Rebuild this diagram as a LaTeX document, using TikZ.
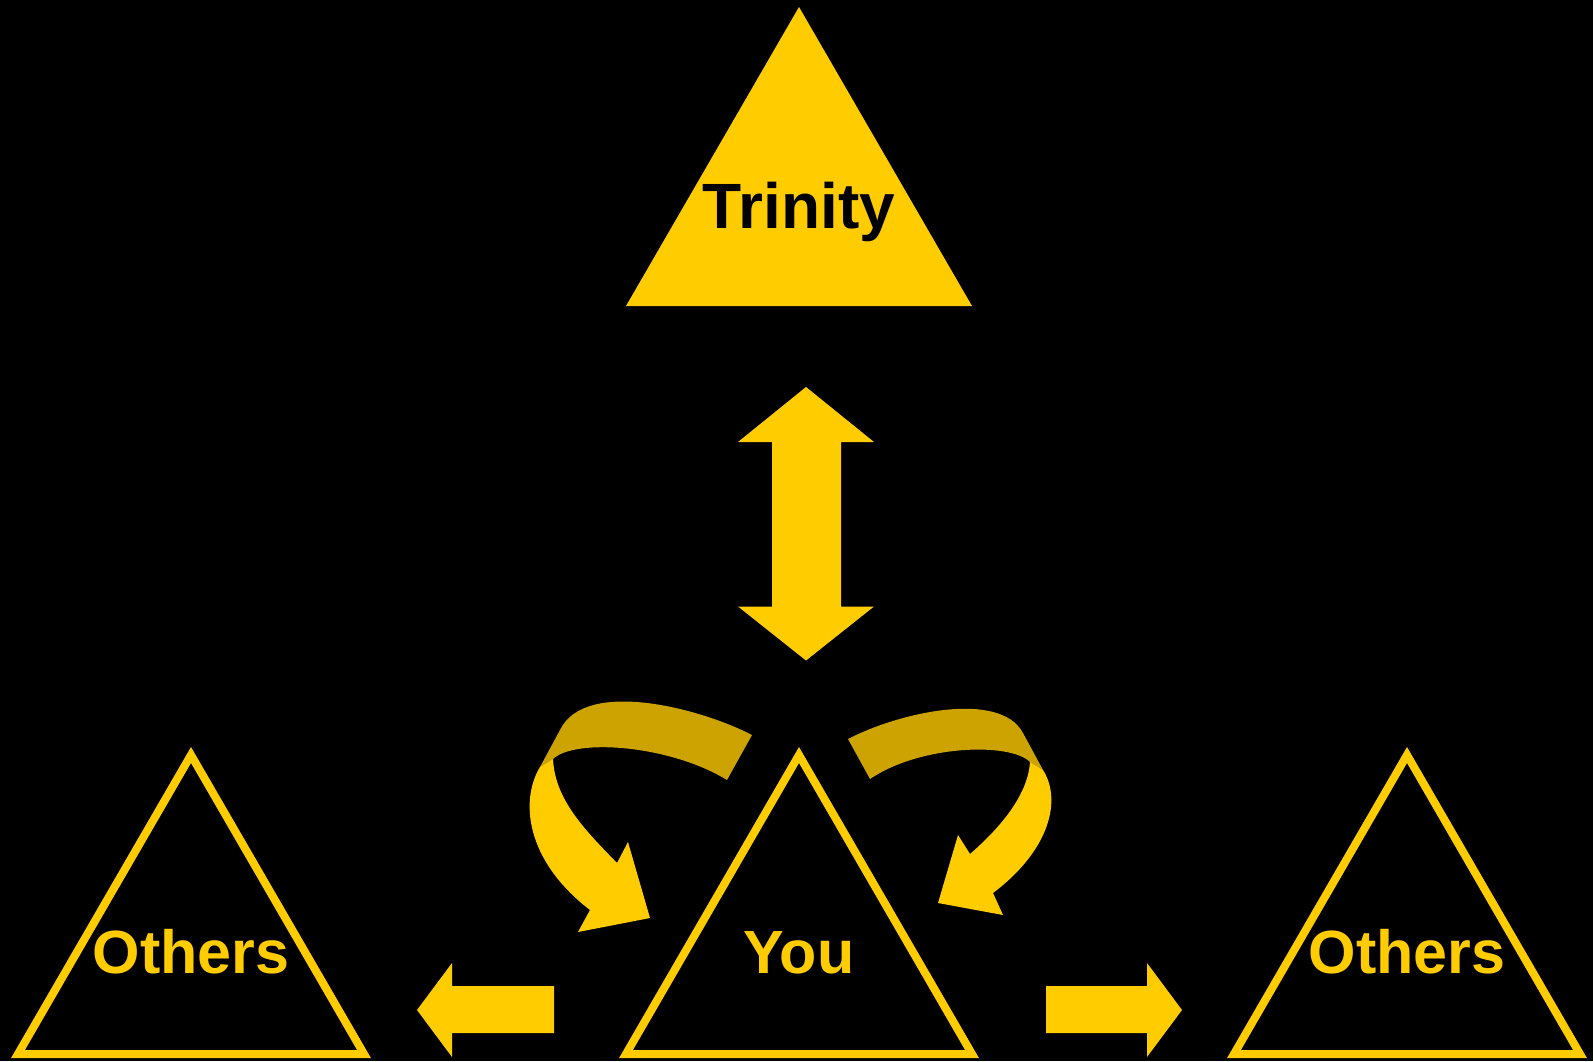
\documentclass[tikz,border=0pt]{standalone}
\usepackage{fontspec}
\setmainfont{Liberation Sans}
\definecolor{gold}{HTML}{FFCC00}
\definecolor{darkgold}{HTML}{CCA300}
\begin{document}
\begin{tikzpicture}[x=1pt,y=-1pt,
  outlinetri/.style={draw=gold,line width=8pt,line join=miter},
  goldfill/.style={fill=gold},
  foldfill/.style={fill=darkgold},
  lbl/.style={font=\fontsize{61}{61}\selectfont\bfseries,text=gold,anchor=base,inner sep=0pt}]
\fill[black] (0,0) rectangle (1593,1061);
\useasboundingbox (0,0) rectangle (1593,1061);

% top triangle
\fill[goldfill] (799,7) -- (972,306) -- (626,306) -- cycle;
\node[anchor=base,inner sep=0pt,font=\fontsize{64}{64}\selectfont\bfseries,text=black] (trinity) at (799,228) {Trinity};

% bottom triangles
\foreach \cx in {191,799,1407}
  \draw[outlinetri] (\cx,755) -- (\cx+173,1054) -- (\cx-173,1054) -- cycle;
\node[lbl] (othersl) at (191,973) {Others};
\node[lbl] (you) at (799,973) {You};
\node[lbl] (othersr) at (1407,973) {Others};

% double arrow
\fill[goldfill] (806,387) -- (874,442) -- (841,442) -- (841,606.5) -- (874,606.5) -- (806,660.5)
  -- (738,606.5) -- (772,606.5) -- (772,442) -- (738,442) -- cycle;

% left straight arrow
\fill[goldfill] (417,1010) -- (452,963) -- (452,986) -- (554,986) -- (554,1033) -- (452,1033) -- (452,1057) -- cycle;
% right straight arrow
\fill[goldfill] (1182,1010) -- (1147,963) -- (1147,986) -- (1046,986) -- (1046,1033) -- (1147,1033) -- (1147,1057) -- cycle;

% left curved arrow
\fill[foldfill] (752,735) .. controls (700,708) and (585,678) .. (560,730)
  -- (540,767) -- (553,759) .. controls (575,738) and (670,745) .. (727,780) -- cycle;
\fill[goldfill] (540,767) .. controls (520,800) and (525,860) .. (590,910)
  -- (578,932) -- (650,918) -- (628,842) -- (617,863)
  .. controls (585,830) and (555,800) .. (553,759) -- cycle;

% right curved arrow
\fill[foldfill] (848,739) .. controls (900,712) and (1000,690) .. (1023,733)
  -- (1043,770) -- (1030,762) .. controls (1010,742) and (920,745) .. (870,779) -- cycle;
\fill[goldfill] (1043,770) .. controls (1062,800) and (1050,850) .. (993,893)
  -- (1003,915) -- (938,903) -- (958,835) -- (970,854)
  .. controls (1000,828) and (1028,795) .. (1030,762) -- cycle;
\end{tikzpicture}
\end{document}
